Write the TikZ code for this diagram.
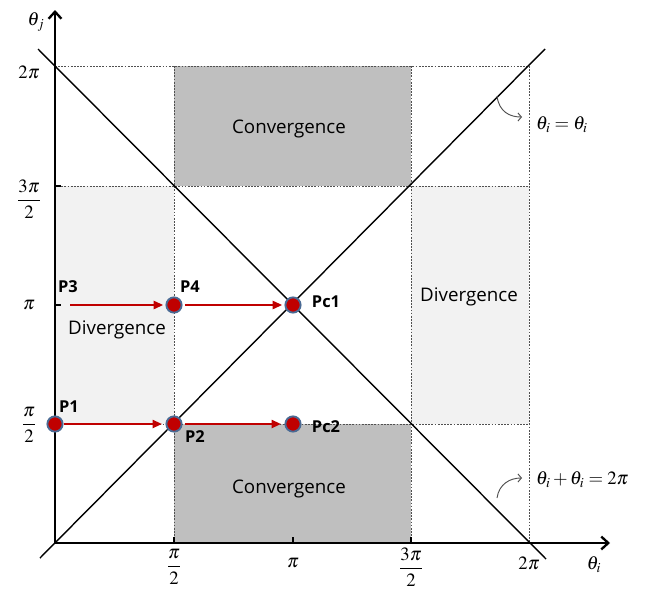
\documentclass[tikz,border=0pt]{standalone}
\usepackage{mathptmx}
\usepackage{fontspec}
\newfontfamily\lblfont{Open Sans}
\usetikzlibrary{arrows.meta}
\definecolor{darkfill}{HTML}{BFBFBF}
\definecolor{lightfill}{HTML}{F2F2F2}
\definecolor{ptred}{HTML}{C00000}
\definecolor{ptblue}{HTML}{4A6A94}
\definecolor{gridgray}{HTML}{505050}
\tikzset{
  gridline/.style={draw=gridgray, line width=0.5pt, dash pattern=on 1.5pt off 1.2pt},
  diagline/.style={draw=black, line width=1.2pt},
  axisline/.style={draw=black, line width=2pt, -{Straight Barb[length=6pt,width=11pt,line width=2pt]}},
  tickline/.style={draw=black, line width=1.5pt},
  mathlbl/.style={font=\fontsize{16}{19}\selectfont, inner sep=0pt},
  regionlbl/.style={font=\lblfont\fontsize{16}{19}\selectfont},
  ptlbl/.style={font=\lblfont\bfseries\fontsize{14}{17}\selectfont, inner sep=0pt},
  ptdot/.style={circle, fill=ptred, draw=ptblue, line width=1.6pt, minimum size=13pt, inner sep=0pt},
  redarrow/.style={draw=ptred, line width=1.4pt, -{Triangle[length=8pt,width=7pt]}},
  curvearrow/.style={draw=gridgray, line width=0.8pt, -{Straight Barb[length=3pt,width=7pt]}}
}
\begin{document}
\begin{tikzpicture}[x=0.03cm,y=-0.03cm]
\useasboundingbox (0,0) rectangle (648,589);
% regions
\fill[darkfill] (174,66) rectangle (411,186);
\fill[darkfill] (174,424) rectangle (411,543);
\fill[lightfill] (55,186) rectangle (174,424);
\fill[lightfill] (411,186) rectangle (529,424);
% grid
\draw[gridline] (55,66) -- (529,66);
\draw[gridline] (55,186) -- (529,186);
\draw[gridline] (55,424) -- (529,424);
\draw[gridline] (174,66) -- (174,543);
\draw[gridline] (411,66) -- (411,543);
\draw[gridline] (529,66) -- (529,543);
% diagonals
\draw[diagline] (40,558) -- (545,49);
\draw[diagline] (38,49) -- (546,559);
% axes
\draw[axisline] (55,543) -- (55,10);
\draw[axisline] (55,543) -- (610,543);
\draw[tickline] (55,186) -- (61,186);
\draw[tickline] (55,305) -- (61,305);
\draw[tickline] (174,543) -- (174,537);
\draw[tickline] (293,543) -- (293,537);
\draw[tickline] (411,543) -- (411,537);
% axis labels
\node[mathlbl] (thj) at (36,22) {$\theta_j$};
\node[mathlbl] (thi) at (594,565) {$\theta_i$};
\node[mathlbl] (y2pi) at (29,72) {$2\pi$};
\node[mathlbl] (y3pi) at (29,199) {$\displaystyle\frac{3\pi}{2}$};
\node[mathlbl] (ypi) at (29,305) {$\pi$};
\node[mathlbl] (yhpi) at (29,425) {$\displaystyle\frac{\pi}{2}$};
\node[mathlbl] (xhpi) at (174,567) {$\displaystyle\frac{\pi}{2}$};
\node[mathlbl] (xpi) at (293,563) {$\pi$};
\node[mathlbl] (x3pi) at (411,567) {$\displaystyle\frac{3\pi}{2}$};
\node[mathlbl] (x2pi) at (529,563) {$2\pi$};
% region labels
\node[regionlbl] (conv1) at (289,129) {Convergence};
\node[regionlbl] (conv2) at (289,489) {Convergence};
\node[regionlbl] (div1) at (117,330) {Divergence};
\node[regionlbl] (div2) at (469,297) {Divergence};
% points
\coordinate (P3) at (55,305);
\node[ptdot] (P1) at (55,424) {};
\node[ptdot] (P2) at (174,424) {};
\node[ptdot] (Pc2) at (293,424) {};
\node[ptdot] (P4) at (174,305) {};
\node[ptdot] (Pc1) at (293,305) {};
\draw[redarrow, shorten >=3pt] (P1) -- (P2);
\draw[redarrow, shorten >=3pt, shorten <=2pt] (P2) -- (Pc2);
\draw[redarrow, shorten <=13pt, shorten >=2pt] (P3) -- (P4);
\draw[redarrow, shorten >=2pt, shorten <=2pt] (P4) -- (Pc1);
\node[ptlbl] (lP1) at (69,407) {P1};
\node[ptlbl] (lP2) at (195,437) {P2};
\node[ptlbl] (lPc2) at (326,427) {Pc2};
\node[ptlbl] (lP3) at (68,287) {P3};
\node[ptlbl] (lP4) at (190,287) {P4};
\node[ptlbl] (lPc1) at (326,302) {Pc1};
% equations
\node[mathlbl, anchor=west] (eq1) at (536,125) {$\theta_i=\theta_i$};
\node[mathlbl, anchor=west] (eq2) at (536,480) {$\theta_i+\theta_i=2\pi$};
\coordinate (c1s) at (497,96);
\coordinate (c1e) at (522,117);
\coordinate (c2s) at (497,498);
\coordinate (c2e) at (522,478);
\draw[curvearrow] (c1s) .. controls (499,112) and (510,117) .. (c1e);
\draw[curvearrow] (c2s) .. controls (499,484) and (510,478) .. (c2e);
\end{tikzpicture}
\end{document}
